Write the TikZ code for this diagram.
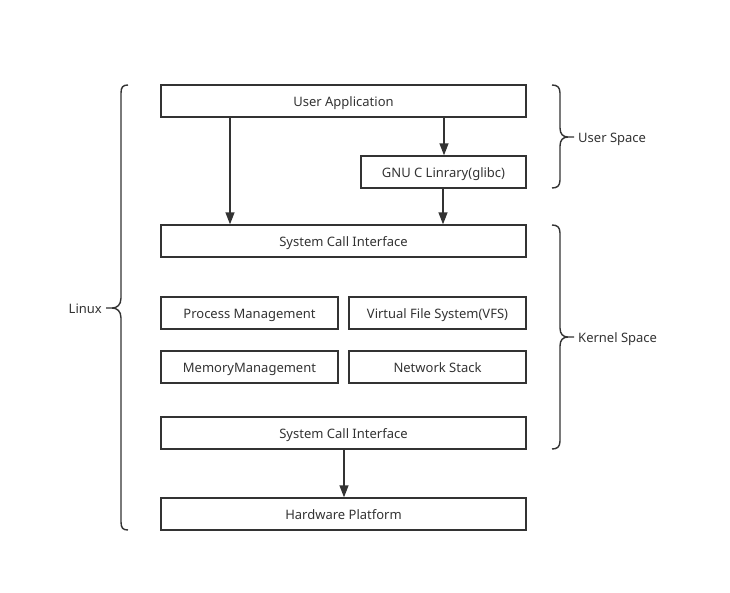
\documentclass[tikz,border=0pt]{standalone}
\usepackage{fontspec}
\setmainfont{Noto Sans}
\usetikzlibrary{arrows.meta}
\definecolor{ink}{HTML}{333333}
\begin{document}
\begin{tikzpicture}[x=1pt,y=-1pt,
  box/.style={draw=ink,line width=1.4pt,minimum height=32pt,inner sep=0pt,text=ink,text height=11pt,text depth=1pt,font=\fontsize{13}{15}\selectfont},
  wide/.style={box,minimum width=365pt},
  half/.style={box,minimum width=177pt},
  conn/.style={draw=ink,line width=1.4pt,-{Triangle[width=9pt,length=12pt]}},
  brc/.style={draw=ink,line width=1.4pt},
  lbl/.style={text=ink,text height=11pt,text depth=1pt,inner sep=0pt,font=\fontsize{13}{15}\selectfont}]
\useasboundingbox (0,0) rectangle (730,592);
\node[wide] (ua) at (343.5,101) {User Application};
\node[box,minimum width=165pt] (glibc) at (443.5,172) {GNU C Linrary(glibc)};
\node[wide] (sci1) at (343.5,241) {System Call Interface};
\node[half] (pm) at (249.5,313) {Process Management};
\node[half] (vfs) at (437.5,313) {Virtual File System(VFS)};
\node[half] (mm) at (249.5,367) {MemoryManagement};
\node[half] (ns) at (437.5,367) {Network Stack};
\node[wide] (sci2) at (343.5,433) {System Call Interface};
\node[wide] (hw) at (343.5,514) {Hardware Platform};
\coordinate (a1) at (230,117);
\coordinate (a2) at (444,117);
\coordinate (a3) at (443,188);
\coordinate (a4) at (344,449);
\draw[conn] (a1) -- (a1 |- sci1.north);
\draw[conn] (a2) -- (a2 |- glibc.north);
\draw[conn] (a3) -- (a3 |- sci1.north);
\draw[conn] (a4) -- (a4 |- hw.north);
% left brace
\coordinate (lt) at (106,308);
\draw[brc] (128,85) .. controls (123,85) and (121,87) .. (121,93) -- (121,298)
  .. controls (121,305) and (117,308) .. (112,308) -- (lt)
  (112,308) .. controls (117,308) and (121,311) .. (121,318) -- (121,522)
  .. controls (121,528) and (123,530) .. (128,530);
\node[lbl,anchor=east] (linux) at (102,308) {Linux};
% user space brace
\coordinate (ut) at (574,137);
\draw[brc] (552,85) .. controls (557,85) and (560,87) .. (560,93) -- (560,128)
  .. controls (560,134) and (563,137) .. (568,137) -- (ut)
  (568,137) .. controls (563,137) and (560,140) .. (560,146) -- (560,180)
  .. controls (560,186) and (557,188) .. (552,188);
\node[lbl,anchor=west] (us) at (578,137) {User Space};
% kernel space brace
\coordinate (kt) at (574,337);
\draw[brc] (552,225) .. controls (557,225) and (560,227) .. (560,233) -- (560,328)
  .. controls (560,334) and (563,337) .. (568,337) -- (kt)
  (568,337) .. controls (563,337) and (560,340) .. (560,346) -- (560,441)
  .. controls (560,447) and (557,449) .. (552,449);
\node[lbl,anchor=west] (ks) at (578,337) {Kernel Space};
\end{tikzpicture}
\end{document}
